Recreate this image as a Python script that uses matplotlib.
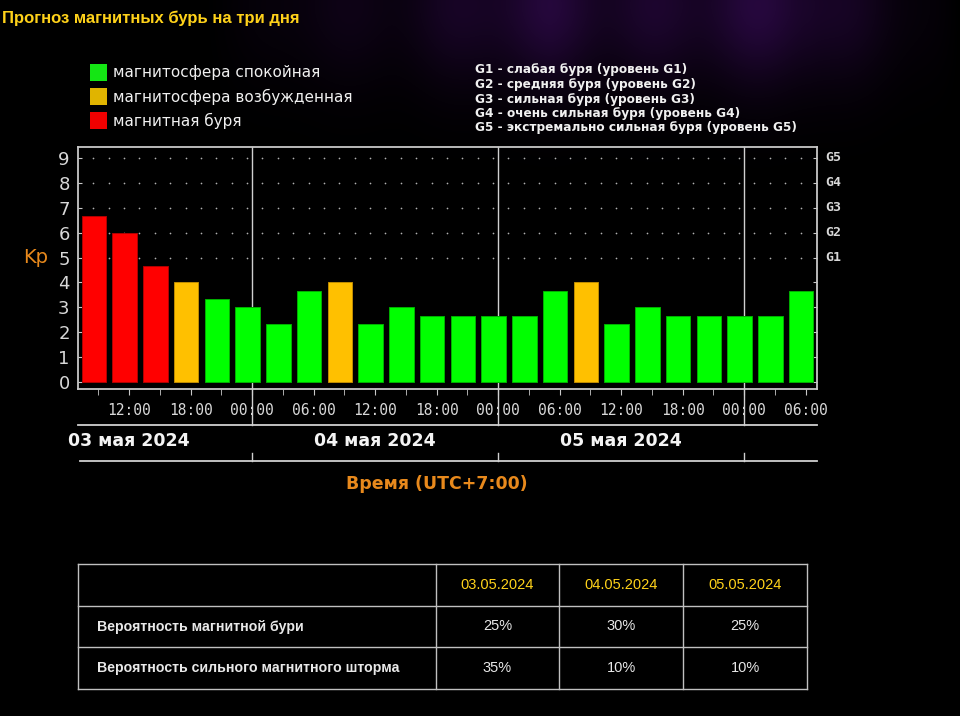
import matplotlib
matplotlib.use("Agg")
import matplotlib.pyplot as plt
import numpy as np
from matplotlib.patches import Rectangle

# ----- data ------------------------------------------------------------------
TITLE = "Прогноз магнитных бурь на три дня"
START_HOUR = 7          # first 3-hour slot starts 03 May 07:00 (UTC+7)
SLOT_HOURS = 3
kp_values = [6.67, 6.0, 4.67, 4.0, 3.33, 3.0, 2.33, 3.67,
             4.0, 2.33, 3.0, 2.67, 2.67, 2.67, 2.67, 3.67,
             4.0, 2.33, 3.0, 2.67, 2.67, 2.67, 2.67, 3.67]
kp_states = ["storm", "storm", "storm", "excited", "calm", "calm", "calm", "calm",
             "excited", "calm", "calm", "calm", "calm", "calm", "calm", "calm",
             "excited", "calm", "calm", "calm", "calm", "calm", "calm", "calm"]
state_names = ["calm", "excited", "storm"]
state_labels = ["магнитосфера спокойная", "магнитосфера возбужденная", "магнитная буря"]
g_levels = [5, 6, 7, 8, 9]
g_names = ["G1", "G2", "G3", "G4", "G5"]
g_legend = ["G1 - слабая буря (уровень G1)",
            "G2 - средняя буря (уровень G2)",
            "G3 - сильная буря (уровень G3)",
            "G4 - очень сильная буря (уровень G4)",
            "G5 - экстремально сильная буря (уровень G5)"]
day_labels = ["03 мая 2024", "04 мая 2024", "05 мая 2024"]
time_tick_hours = list(range(12, 79, 6))
time_tick_labels = ["%02d:00" % (h % 24) for h in time_tick_hours]
x_label = "Время (UTC+7:00)"

table_dates = ["03.05.2024", "04.05.2024", "05.05.2024"]
table_rows = ["Вероятность магнитной бури", "Вероятность сильного магнитного шторма"]
table_values = [["25%", "30%", "25%"], ["35%", "10%", "10%"]]

# ----- style -----------------------------------------------------------------
BG = "#000000"
FG = "#d8d8d8"
GRID = "#b0b0b0"
ORANGE_TXT = "#e8891c"
YELLOW = "#ffd21a"
FILL = {"calm": "#00ff00", "excited": "#ffc000", "storm": "#ff0000"}
EDGE = {"calm": "#00b000", "excited": "#c08c00", "storm": "#b00000"}
LEGEND_FILL = {"calm": "#14e614", "excited": "#e0b400", "storm": "#f00000"}

W, H = 960, 716
fig = plt.figure(figsize=(W / 100, H / 100), dpi=100, facecolor=BG)


def fx(px):
    return px / W


def fy(py):
    return 1 - py / H


# faint purple nebula at the top of the page
bg = fig.add_axes([0, 0, 1, 1], zorder=-10)
bg.set_axis_off()
yy, xx = np.mgrid[0:H, 0:W]
glow = np.exp(-((yy - 5) / 80.0) ** 2) * np.clip((xx - 200) / 350.0, 0, 1) \
    * np.clip((960 - xx) / 150.0, 0, 1)
glow *= 0.75 + 0.25 * np.sin(xx / 23.0) * np.sin(xx / 57.0 + 1)
img = np.zeros((H, W, 3))
img[..., 0] = 0.15 * glow
img[..., 1] = 0.03 * glow
img[..., 2] = 0.24 * glow
bg.imshow(img, extent=(0, W, H, 0), aspect="auto")
bg.set_xlim(0, W)
bg.set_ylim(H, 0)

fig.text(fx(2), fy(18), TITLE, color=YELLOW, fontsize=12, fontweight="bold",
         family="Liberation Sans", ha="left", va="center")

# colour legend
for i, (name, label) in enumerate(zip(state_names, state_labels)):
    top = 64 + 24 * i
    fig.add_artist(Rectangle((fx(90), fy(top + 17)), fx(17), 17 / H,
                             transform=fig.transFigure, facecolor=LEGEND_FILL[name],
                             edgecolor="none"))
    fig.text(fx(113), fy(top + 8.5), label, color="#f0f0f0", fontsize=11,
             family="DejaVu Sans", ha="left", va="center")

# G-level legend
for i, line in enumerate(g_legend):
    fig.text(fx(475), fy(70 + 14.5 * i), line, color="#f0f0f0", fontsize=8.7,
             fontweight="bold", family="DejaVu Sans", ha="left", va="center")

# ----- main chart ------------------------------------------------------------
L, R, T, B = 78, 817, 147, 389
ax = fig.add_axes([fx(L), fy(B), fx(R - L), (B - T) / H])
ax.set_facecolor("none")
ax.set_xlim(7, 79.1)
ax.set_ylim(-0.28, 9.44)

slot_starts = [START_HOUR + SLOT_HOURS * i for i in range(len(kp_values))]
ax.bar([s + 0.35 for s in slot_starts], kp_values, width=2.4, align="edge",
       color=[FILL[s] for s in kp_states], edgecolor=[EDGE[s] for s in kp_states],
       linewidth=0.7, zorder=3)

# dotted grid (upper levels only)
dot_x = np.arange(8.5, 79, 1.5)
for lvl in g_levels:
    ax.scatter(dot_x, [lvl] * len(dot_x), s=1.5, color=GRID, linewidths=0, zorder=1)

for sp in ax.spines.values():
    sp.set_color("#c8c8c8")
    sp.set_linewidth(1.3)

ax.set_yticks(range(10))
ax.tick_params(axis="y", which="both", direction="in", length=3, color="#c8c8c8",
               labelsize=13, labelcolor=FG, pad=6, right=True)
for lab in ax.get_yticklabels():
    lab.set_family("DejaVu Sans")

ax.set_xticks(range(9, 79, 3), minor=True)
ax.set_xticks(time_tick_hours)
ax.set_xticklabels(time_tick_labels, family="DejaVu Sans Mono", fontsize=10.5, color=FG)
ax.tick_params(axis="x", which="both", direction="out", length=4, color="#c8c8c8",
               pad=6)

ax.text(-0.058, 5, "Kp", transform=ax.get_yaxis_transform(), color=ORANGE_TXT,
        fontsize=14, ha="center", va="center", family="DejaVu Sans")
for lvl, g in zip(g_levels, g_names):
    ax.text(1.011, lvl, g, transform=ax.get_yaxis_transform(), color=FG,
            fontsize=9.5, ha="left", va="center", family="DejaVu Sans Mono",
            fontweight="bold")

# day boundaries and the date band under the axis
trans = ax.get_xaxis_transform()
y_line1 = (B - 425) / (B - T)
y_line2 = (B - 461) / (B - T)
for d in (24, 48, 72):
    ax.plot([d, d], [1, y_line1], transform=trans, color="#d0d0d0", lw=1,
            clip_on=False, zorder=2)
    ax.plot([d, d], [y_line2, y_line2 + 0.035], transform=trans, color="#d0d0d0",
            lw=1, clip_on=False)
ax.plot([7, 79.1], [y_line1, y_line1], transform=trans, color="#d0d0d0", lw=1.3,
        clip_on=False)
ax.plot([7.2, 79.1], [y_line2, y_line2], transform=trans, color="#d0d0d0", lw=1.3,
        clip_on=False)
y_date = (B - 441) / (B - T)
for i, lab in enumerate(day_labels):
    ax.text(12 + 24 * i, y_date, lab, transform=trans, color="#f4f4f4",
            fontsize=12.5, fontweight="bold", ha="center", va="center",
            family="DejaVu Sans")
ax.text(42, (B - 484) / (B - T), x_label, transform=trans, color=ORANGE_TXT,
        fontsize=12.5, fontweight="bold", ha="center", va="center",
        family="DejaVu Sans")

# ----- probability table -----------------------------------------------------
tl, tr, tt, tb = 78, 807, 564, 689
tax = fig.add_axes([fx(tl), fy(tb), fx(tr - tl), (tb - tt) / H])
tax.set_axis_off()
tax.set_xlim(0, 1)
tax.set_ylim(3, 0)
col_edges = [0, (436 - tl) / (tr - tl), (559 - tl) / (tr - tl), (683 - tl) / (tr - tl), 1]
LINE = "#c0c0c0"
for x in col_edges:
    tax.plot([x, x], [0, 3], color=LINE, lw=1, clip_on=False)
for r in range(4):
    tax.plot([0, 1], [r, r], color=LINE, lw=1, clip_on=False)
for j, d in enumerate(table_dates):
    tax.text((col_edges[j + 1] + col_edges[j + 2]) / 2, 0.5, d, color=YELLOW,
             fontsize=10.5, ha="center", va="center", family="Liberation Sans")
for i, (name, vals) in enumerate(zip(table_rows, table_values)):
    tax.text((97 - tl) / (tr - tl), i + 1.5, name, color="#e8e8e8", fontsize=10.2,
             fontweight="bold", ha="left", va="center", family="Liberation Sans")
    for j, v in enumerate(vals):
        tax.text((col_edges[j + 1] + col_edges[j + 2]) / 2, i + 1.5, v,
                 color="#e8e8e8", fontsize=10.5, ha="center", va="center",
                 family="Liberation Sans")

fig.savefig("out.png", dpi=100, facecolor=BG)
